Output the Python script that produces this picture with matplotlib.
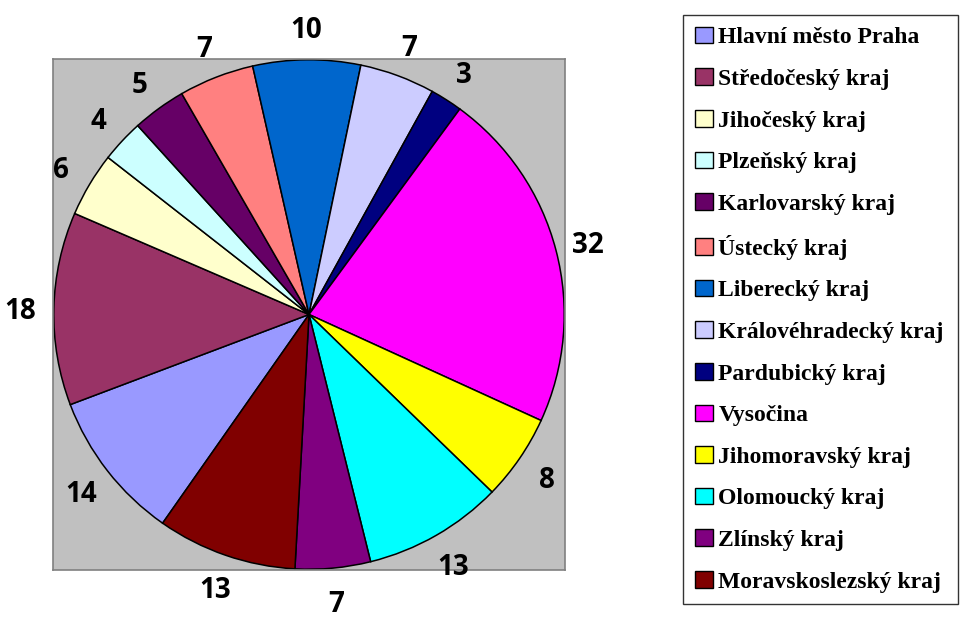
import matplotlib.pyplot as plt

# data
kraje = ["Hlavní město Praha", "Středočeský kraj", "Jihočeský kraj", "Plzeňský kraj",
         "Karlovarský kraj", "Ústecký kraj", "Liberecký kraj", "Královéhradecký kraj",
         "Pardubický kraj", "Vysočina", "Jihomoravský kraj", "Olomoucký kraj",
         "Zlínský kraj", "Moravskoslezský kraj"]
hodnoty = [14, 18, 6, 4, 5, 7, 10, 7, 3, 32, 8, 13, 7, 13]
barvy = ["#9999FF", "#993366", "#FFFFCC", "#CCFFFF", "#660066", "#FF8080", "#0066CC",
         "#CCCCFF", "#000080", "#FF00FF", "#FFFF00", "#00FFFF", "#800080", "#800000"]

fig = plt.figure(figsize=(9.61, 6.17), dpi=100)
ax = fig.add_axes([53 / 961, 47 / 617, 512 / 961, 511 / 617])
ax.set_facecolor("#C0C0C0")

wedges, texts = ax.pie(hodnoty, labels=[str(v) for v in hodnoty], colors=barvy,
                       startangle=235, counterclock=False, labeldistance=1.13,
                       frame=True,
                       wedgeprops=dict(edgecolor="black", linewidth=1.1),
                       textprops=dict(fontsize=20, fontweight="bold",
                                      family=["Open Sans", "DejaVu Sans"]))
for t in texts:
    t.set_ha("center")
    t.set_va("center_baseline")

ax.set_aspect("auto")
ax.set_xlim(-1.003, 1.003)
ax.set_ylim(-1.003, 1.003)
ax.set_xticks([])
ax.set_yticks([])
for s in ax.spines.values():
    s.set_color("#808080")
    s.set_linewidth(1.2)

leg = fig.legend(wedges, kraje, loc="upper left", mode="expand",
                 bbox_to_anchor=(683 / 961, 13 / 617, 275 / 961, 589 / 617),
                 borderaxespad=0, frameon=True, fancybox=False,
                 prop=dict(family="Liberation Serif", weight="bold", size=17),
                 handlelength=0.75, handleheight=0.7, handletextpad=0.25,
                 labelspacing=0.85, borderpad=0.5)
leg.get_frame().set_edgecolor("black")
leg.get_frame().set_linewidth(1.0)
for h in leg.legend_handles:
    h.set_edgecolor("black")
    h.set_linewidth(1.0)

fig.savefig("out.png", dpi=100)
